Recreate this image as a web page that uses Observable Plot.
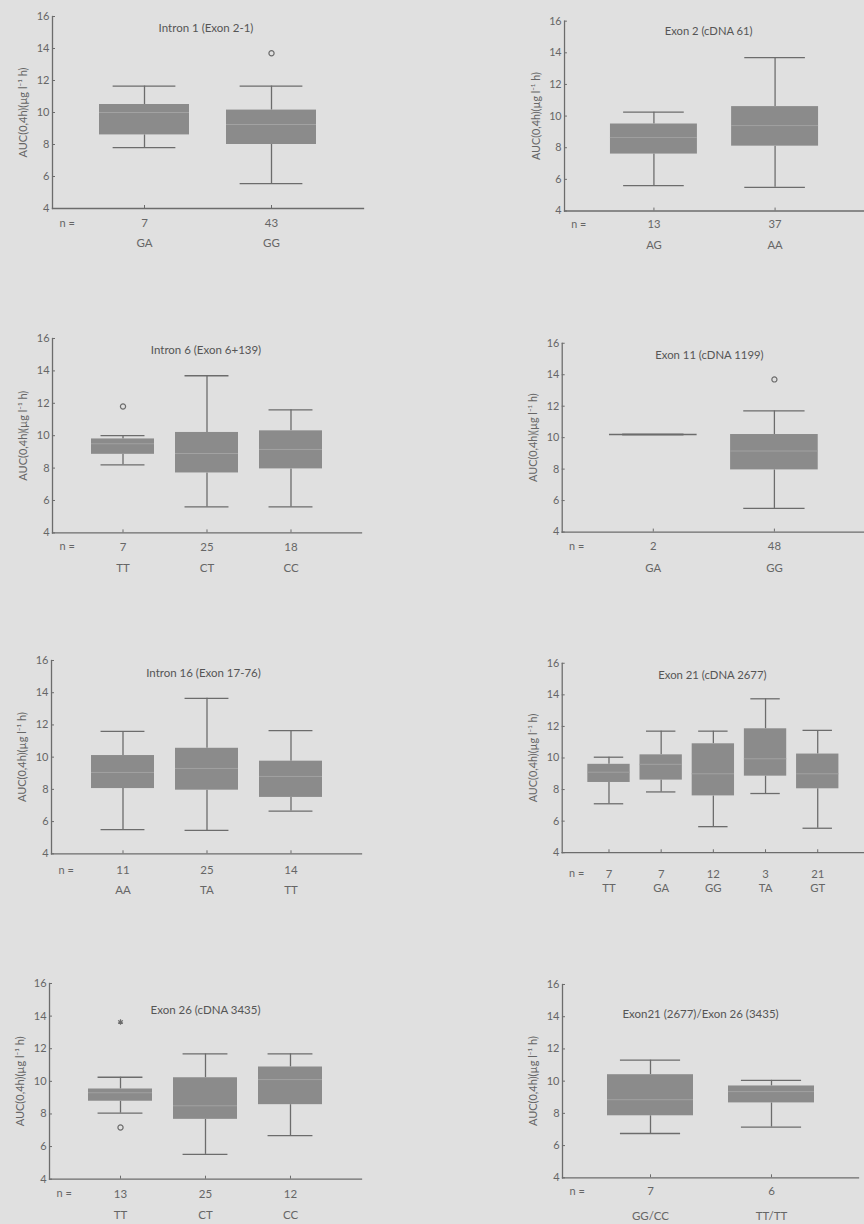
<!DOCTYPE html>
<html><head><meta charset="utf-8">
<script src="https://cdn.jsdelivr.net/npm/d3@7"></script>
<script src="https://cdn.jsdelivr.net/npm/@observablehq/plot@0.6"></script>
<style>
html,body{margin:0;padding:0;background:#e0e0e0;overflow:hidden;}
#page{position:relative;width:864px;height:1224px;overflow:hidden;background:#e0e0e0;}
.panel{position:absolute;}
</style></head><body><div id="page"></div>
<script>
// ---- data ----
const titles = [
  "Intron 1 (Exon 2-1)", "Exon 2 (cDNA 61)",
  "Intron 6 (Exon 6+139)", "Exon 11 (cDNA 1199)",
  "Intron 16 (Exon 17-76)", "Exon 21 (cDNA 2677)",
  "Exon 26 (cDNA 3435)", "Exon21 (2677)/Exon 26 (3435)"
];
const genotypes = [
  ["GA", "GG"], ["AG", "AA"],
  ["TT", "CT", "CC"], ["GA", "GG"],
  ["AA", "TA", "TT"], ["TT", "GA", "GG", "TA", "GT"],
  ["TT", "CT", "CC"], ["GG/CC", "TT/TT"]
];
const counts = [
  [7, 43], [13, 37],
  [7, 25, 18], [2, 48],
  [11, 25, 14], [7, 7, 12, 3, 21],
  [13, 25, 12], [7, 6]
];
const lows = [
  [7.8, 5.55], [5.6, 5.5],
  [8.2, 5.6, 5.6], [10.2, 5.5],
  [5.5, 5.45, 6.65], [7.1, 7.85, 5.65, 7.75, 5.55],
  [8.05, 5.52, 6.67], [6.75, 7.15]
];
const q1s = [
  [8.6, 8.0], [7.6, 8.1],
  [8.85, 7.7, 7.95], [10.2, 7.95],
  [8.05, 7.95, 7.5], [8.45, 8.6, 7.6, 8.85, 8.05],
  [8.78, 7.67, 8.57], [7.85, 8.65]
];
const medians = [
  [10.0, 9.25], [8.65, 9.4],
  [9.5, 8.9, 9.15], [10.2, 9.15],
  [9.05, 9.3, 8.8], [9.1, 9.6, 9.0, 9.95, 9.0],
  [9.3, 8.5, 10.11], [8.85, 9.35]
];
const q3s = [
  [10.5, 10.15], [9.5, 10.6],
  [9.8, 10.2, 10.3], [10.2, 10.2],
  [10.1, 10.55, 9.75], [9.6, 10.2, 10.9, 11.85, 10.25],
  [9.53, 10.22, 10.88], [10.4, 9.7]
];
const highs = [
  [11.65, 11.65], [10.25, 13.7],
  [10.0, 13.7, 11.6], [10.2, 11.7],
  [11.6, 13.65, 11.65], [10.05, 11.7, 11.7, 13.75, 11.75],
  [10.25, 11.68, 11.68], [11.3, 10.05]
];
// outliers: [genotype, value, kind] ("o" = outlier, "*" = extreme)
const outliers = [
  [["GG", 13.7, "o"]], [],
  [["TT", 11.8, "o"]], [["GG", 13.7, "o"]],
  [], [],
  [["TT", 13.64, "*"], ["TT", 7.17, "o"]], []
];
const yTicks = [4, 6, 8, 10, 12, 14, 16];
const yLabel = "AUC(0,4h)(µg l⁻¹ h)";

// ---- layout (page pixels) ----
const layout = [
  {left: 0,   axis: 52,  y16: 16,    y4: 208,    fw: 311, pi: 0.29, po: 0.36,  nOff: 15, gOff: 35, tDy: 7,  tDx: -2},
  {left: 480, axis: 566, y16: 20.7,  y4: 215,    fw: 307, pi: 0.28, po: 0.37,  nOff: 14, gOff: 35, tDy: 6,  tDx: -6},
  {left: 0,   axis: 52,  y16: 338.3, y4: 532.7,  fw: 309, pi: 0.25, po: 0.45,  nOff: 14, gOff: 35, tDy: 7,  tDx: -1},
  {left: 480, axis: 563, y16: 343.3, y4: 535,    fw: 307, pi: 0.28, po: 0.38,  nOff: 15, gOff: 37, tDy: 8,  tDx: -4},
  {left: 0,   axis: 51,  y16: 660,   y4: 853.3,  fw: 310, pi: 0.25, po: 0.45,  nOff: 17, gOff: 37, tDy: 8,  tDx: -3},
  {left: 480, axis: 563, y16: 663.3, y4: 855.7,  fw: 307, pi: 0.19, po: 0.44,  nOff: 22, gOff: 36, tDy: 8,  tDx: -1},
  {left: 0,   axis: 49,  y16: 983.3, y4: 1179,   fw: 312, pi: 0.25, po: 0.46,  nOff: 15, gOff: 36, tDy: 22, tDx: 0},
  {left: 480, axis: 562, y16: 984,   y4: 1177.3, fw: 296, pi: 0.29, po: 0.365, nOff: 14, gOff: 39, tDy: 25, tDx: -10}
];

const lineColor = "#6c6c6c";
const boxColor = "#8b8b8b";
const textColor = "#666";
const font = "Lato, 'Open Sans', sans-serif";

const page = document.getElementById("page");

titles.forEach((title, i) => {
  const L = layout[i];
  const data = genotypes[i].map((g, j) => ({
    g, n: counts[i][j], lo: lows[i][j], q1: q1s[i][j], med: medians[i][j], q3: q3s[i][j], hi: highs[i][j]
  }));
  const nMap = new Map(data.map(d => [d.g, d.n]));
  const outs = outliers[i].map(([g, v, kind]) => ({g, v, kind}));
  const mt = 14, mb = 52, ml = L.axis - L.left, mr = 0;
  const W = ml + L.fw + mr;
  const H = mt + (L.y4 - L.y16) + mb;
  const k = genotypes[i].length;
  const step = L.fw / (k - L.pi + 2 * L.po);
  const bw = step * (1 - L.pi);
  const capInset = bw * 0.15;

  const chart = Plot.plot({
    width: W, height: H,
    marginTop: mt, marginBottom: mb, marginLeft: ml, marginRight: mr,
    style: {background: "transparent", fontFamily: font, fontSize: "11px", color: textColor, overflow: "visible"},
    x: {domain: genotypes[i], paddingInner: L.pi, paddingOuter: L.po, align: 0.5},
    y: {domain: [4, 16]},
    marks: [
      Plot.axisY({ticks: yTicks, tickSize: -3, tickPadding: 6, fontSize: 11,
        label: yLabel, labelAnchor: "center", labelOffset: 33, labelArrow: "none", stroke: lineColor}),
      Plot.axisX({tickSize: -3, tickPadding: L.nOff - 1.5, fontSize: 11.5, label: null,
        tickFormat: g => String(nMap.get(g)), stroke: lineColor}),
      Plot.axisX({tickSize: 0, tickPadding: L.gOff - 4.5, fontSize: 11.5, label: null}),
      Plot.frame({anchor: "left", stroke: lineColor, strokeWidth: 1.3}),
      Plot.frame({anchor: "bottom", stroke: lineColor, strokeWidth: 1.3}),
      Plot.ruleX(data, {x: "g", y1: "lo", y2: "q1", stroke: lineColor, strokeWidth: 1.3}),
      Plot.ruleX(data, {x: "g", y1: "q3", y2: "hi", stroke: lineColor, strokeWidth: 1.3}),
      Plot.tickY(data, {x: "g", y: "lo", stroke: lineColor, strokeWidth: 1.3, insetLeft: capInset, insetRight: capInset}),
      Plot.tickY(data, {x: "g", y: "hi", stroke: lineColor, strokeWidth: 1.3, insetLeft: capInset, insetRight: capInset}),
      Plot.barY(data, {x: "g", y1: "q1", y2: "q3", fill: boxColor}),
      Plot.tickY(data, {x: "g", y: "med",
        stroke: d => d.q1 === d.q3 ? lineColor : "#a2a2a2",
        strokeWidth: d => d.q1 === d.q3 ? 1.6 : 1}),
      Plot.dot(outs, {x: "g", y: "v", symbol: d => d.kind === "*" ? "asterisk" : "circle",
        r: 2.6, stroke: lineColor, strokeWidth: 1.2, fill: "none"}),
      Plot.text([title], {frameAnchor: "top", dy: L.tDy, dx: L.tDx, fontSize: 11.5, fill: "#555"}),
      Plot.text(["n ="], {frameAnchor: "bottom-left", dy: L.nOff + 3, dx: 7, fontSize: 11, fill: textColor})
    ]
  });
  const div = document.createElement("div");
  div.className = "panel";
  div.style.left = L.left + "px";
  div.style.top = (L.y16 - mt) + "px";
  div.appendChild(chart);
  page.appendChild(div);
});
</script>
</body></html>
